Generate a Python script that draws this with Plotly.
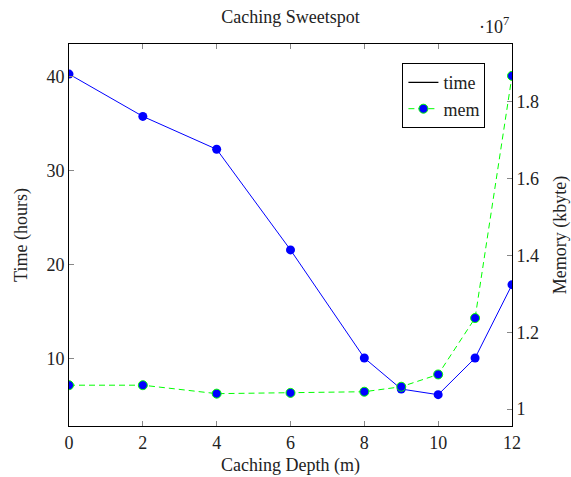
import plotly.graph_objects as go

depth = [0, 2, 4, 6, 8, 9, 10, 11, 12]
time_hours = [40.3, 35.8, 32.3, 21.6, 10.1, 6.8, 6.2, 10.1, 17.9]
mem_kbyte = [1.062e7, 1.062e7, 1.040e7, 1.042e7, 1.045e7, 1.058e7, 1.090e7, 1.237e7, 1.868e7]
x_ticks = [0, 2, 4, 6, 8, 10, 12]
left_ticks = [10, 20, 30, 40]
right_tickvals = [1.0e7, 1.2e7, 1.4e7, 1.6e7, 1.8e7]
right_ticktext = ["1", "1.2", "1.4", "1.6", "1.8"]

FONT = "Liberation Serif"
FS = 18
TXT = "#222"
fig = go.Figure()

fig.add_trace(go.Scatter(
    x=depth, y=time_hours, mode="lines+markers", name="time", showlegend=False,
    line=dict(color="#0000ff", width=1),
    marker=dict(color="#0000ff", size=9, line=dict(color="#0000ff", width=0)),
    yaxis="y"))
fig.add_trace(go.Scatter(
    x=[None], y=[None], mode="lines", name="time",
    line=dict(color="black", width=1.2), yaxis="y"))
fig.add_trace(go.Scatter(
    x=depth, y=mem_kbyte, mode="lines+markers", name="mem",
    line=dict(color="#00ff00", width=1, dash="6px,4px"),
    marker=dict(color="#0000ff", size=9, line=dict(color="#00ff00", width=1)),
    yaxis="y2"))

fig.update_layout(
    width=571, height=477,
    margin=dict(l=69, r=59, t=44, b=51),
    paper_bgcolor="white", plot_bgcolor="white",
    font=dict(family=FONT, size=FS, color=TXT),
    title=dict(text="Caching Sweetspot", x=0.5, xref="paper", xanchor="center",
               y=0.965, yanchor="middle", font=dict(family=FONT, size=FS, color=TXT)),
    xaxis=dict(range=[0, 12], tickvals=x_ticks, ticks="inside", ticklen=5,
               tickcolor="#888", showline=True, linecolor="black", linewidth=1,
               mirror="ticks", showgrid=False, zeroline=False, automargin=False,
               tickfont=dict(family=FONT, size=FS, color=TXT),
               title=dict(text="Caching Depth (m)", standoff=6,
                          font=dict(family=FONT, size=FS, color=TXT))),
    yaxis=dict(range=[2.87, 43.5], tickvals=left_ticks, ticks="inside", ticklen=5,
               tickcolor="#888", showline=True, linecolor="black", linewidth=1,
               showgrid=False, zeroline=False, automargin=False,
               tickfont=dict(family=FONT, size=FS, color=TXT),
               title=dict(text="Time (hours)", standoff=14,
                          font=dict(family=FONT, size=FS, color=TXT))),
    yaxis2=dict(range=[0.9557e7, 1.951e7], overlaying="y", side="right",
                tickvals=right_tickvals, ticktext=right_ticktext,
                ticks="inside", ticklen=5, tickcolor="#888",
                showline=True, linecolor="black", linewidth=1,
                showgrid=False, zeroline=False, automargin=False,
                tickfont=dict(family=FONT, size=FS, color=TXT),
                title=dict(text="Memory (kbyte)", standoff=20,
                           font=dict(family=FONT, size=FS, color=TXT))),
    legend=dict(x=0.94, y=0.95, xanchor="right", yanchor="top",
                bordercolor="black", borderwidth=1, bgcolor="white",
                font=dict(family=FONT, size=FS, color=TXT), tracegroupgap=0,
                itemwidth=30),
    annotations=[dict(text="·10<sup>7</sup>", xref="paper", yref="paper",
                      x=1.0, y=1.0, xanchor="center", yanchor="bottom",
                      xshift=-18, yshift=5, showarrow=False,
                      font=dict(family=FONT, size=FS, color=TXT))],
)

fig.write_html("out.html")
